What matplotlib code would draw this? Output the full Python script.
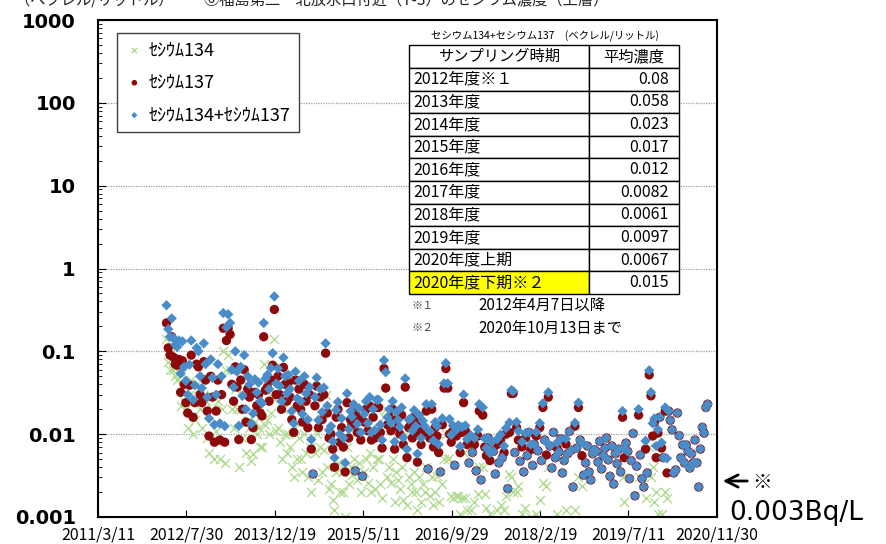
import numpy as np
import pandas as pd
import matplotlib
matplotlib.use("Agg")
import matplotlib.pyplot as plt
from matplotlib.patches import Rectangle
from matplotlib.ticker import LogLocator, NullFormatter

plt.rcParams['font.family'] = ['Noto Sans CJK JP', 'DejaVu Sans']

nd = None  # 不検出
days = [7, 17, 27]  # 月内の採取日（3回/月）

# セシウム137 (Bq/L)
r2012 = [0.22, 0.11, 0.09, 0.15, 0.085, 0.07, 0.068, 0.08, 0.032, 0.077, 0.04, 0.024, 0.018, 0.039, 0.09,
         0.016, 0.024, 0.07, 0.065, 0.03, 0.024, 0.075, 0.045, 0.019, 0.0095, 0.05, 0.028]
r2013 = [0.008, 0.019, 0.045, 0.0085, 0.03, 0.19, 0.008, 0.135, 0.19, 0.16, 0.04, 0.025, 0.065, 0.037, 0.0086,
         0.045, 0.02, 0.06, 0.014, 0.035, 0.028, 0.0086, 0.012, 0.032, 0.022, 0.03, 0.018, 0.0166, 0.15, 0.034,
         0.037, 0.025, 0.045, 0.068, 0.32, 0.03]
r2014 = [0.05, 0.03, 0.02, 0.064, 0.04, 0.025, 0.042, 0.028, 0.015, 0.0105, 0.045, 0.022, 0.035, 0.02, 0.014,
         0.04, 0.025, 0.012, 0.03, 0.0066, 0.0033, 0.022, 0.038, 0.012, 0.028, 0.015, 0.03, 0.095, 0.018, 0.009,
         0.01, 0.0066, 0.004, 0.016, 0.02, 0.008]
r2015 = [0.012, 0.007, 0.0035, 0.024, 0.009, 0.015, 0.013, 0.018, 0.0036, 0.0105, 0.016, 0.0085, 0.0031, 0.014,
         0.02, 0.011, 0.022, 0.0085, 0.016, 0.009, 0.021, 0.021, 0.0105, 0.0068, 0.062, 0.036, 0.013, 0.016,
         0.011, 0.02, 0.0066, 0.015, 0.012, 0.01, 0.017, 0.0075]
r2016 = [0.037, 0.0052, 0.012, 0.013, 0.009, 0.016, 0.0105, 0.0046, 0.014, 0.0075, 0.012, 0.0105, 0.019, 0.0038,
         0.009, 0.02, 0.007, 0.012, 0.0095, 0.006, 0.0035, 0.013, 0.036, 0.062, 0.036, 0.01, 0.008, 0.011, 0.0042,
         0.0095, 0.011, 0.006, 0.0105, 0.024, 0.011, 0.0075]
r2017 = [0.0045, 0.0085, 0.006, 0.0075, 0.0036, 0.0095, 0.019, 0.0028, 0.017, 0.007, 0.0055, 0.009, 0.0048, 0.008,
         0.0062, 0.0033, 0.0075, 0.0045, 0.0085, 0.0052, 0.006, 0.01, 0.0022, 0.0105, 0.031, 0.031, 0.006, 0.012,
         0.0085, 0.0047, 0.007, 0.0035, 0.009, 0.0055, 0.0105, 0.0065]
r2018 = [0.0042, 0.0075, 0.0095, 0.0063, 0.012, 0.0048, 0.021, 0.0085, 0.0056, 0.028, 0.0072, 0.0039, 0.0105,
         0.0052, 0.0068, 0.0061, 0.0088, 0.0034, 0.0048, 0.0076, 0.0058, 0.0108, 0.0064, 0.0023, 0.0125, 0.0068,
         0.021, 0.0085, 0.0055, 0.0032, 0.0045, 0.0072, 0.0035, 0.0028, 0.0058, 0.0065]
r2019 = [0.0062, 0.0046, 0.0082, 0.0038, 0.0055, 0.0068, 0.009, 0.0049, 0.0031, 0.0072, 0.0025, 0.0058, 0.0044,
         0.0066, 0.0035, 0.016, 0.0052, 0.0078, 0.0062, 0.0029, 0.0048, 0.0102, 0.0018, 0.0041, 0.017, 0.0056,
         0.0029, 0.0023, 0.0066, 0.0034, 0.052, 0.029, 0.0095, 0.014, 0.0052, 0.0103]
r2020 = [0.016, 0.0068, 0.0052, 0.019, 0.0034, 0.019, 0.0147, 0.0113, 0.0034, 0.0037, 0.018, 0.0096, 0.0052,
         0.0074, 0.0045, 0.0074, 0.0062, 0.0039, 0.0058, 0.0045, 0.0085, 0.0045, 0.0023, 0.0066, 0.0121, 0.0103,
         0.021, 0.023]

# セシウム134 (Bq/L)
g2012 = [0.14, 0.075, 0.06, 0.1, 0.06, 0.05, 0.045, 0.055, 0.022, 0.055, 0.025, 0.02, 0.012, 0.03, 0.045, 0.01,
         0.015, 0.04, 0.035, 0.02, 0.012, 0.05, 0.025, 0.009, 0.006, 0.03, 0.02]
g2013 = [0.005, 0.011, 0.025, 0.005, 0.02, 0.1, 0.0045, 0.06, 0.09, 0.06, 0.02, 0.012, 0.035, 0.02, 0.004, 0.02,
         0.009, 0.03, 0.006, 0.015, 0.012, 0.0048, 0.0058, 0.014, 0.01, 0.012, 0.007, 0.007, 0.07, 0.013, 0.015,
         0.01, 0.018, 0.027, 0.14, 0.011]
g2014 = [0.012, 0.008, 0.005, 0.02, 0.01, 0.006, 0.01, 0.007, 0.004, 0.003, 0.012, 0.005, 0.009, 0.005, 0.0035,
         0.01, 0.006, 0.003, 0.007, 0.002, nd, 0.006, 0.01, 0.0028, 0.007, 0.0035, 0.0065, 0.03, 0.004, 0.0022,
         0.0025, 0.0016, 0.0012, 0.0035, 0.0045, 0.002]
g2015 = [0.0035, 0.002, 0.001, 0.007, 0.0025, 0.004, 0.0032, 0.005, nd, 0.0028, 0.0045, 0.002, nd, 0.0035, 0.005,
         0.0026, 0.006, 0.002, 0.004, 0.0022, 0.005, 0.005, 0.0025, 0.0017, 0.016, 0.02, 0.003, 0.004, 0.0026,
         0.005, 0.0015, 0.0035, 0.0028, 0.0022, 0.004, 0.0016]
g2016 = [0.01, 0.0014, 0.003, 0.0025, 0.002, 0.0035, 0.002, 0.0012, 0.003, 0.0015, 0.0025, 0.002, 0.004, nd,
         0.0018, 0.003, 0.0014, 0.002, 0.0031, 0.0015, nd, 0.0025, 0.005, 0.01, 0.005, 0.0052, 0.0018, 0.0017, nd,
         0.0018, 0.0018, 0.0011, 0.0017, 0.006, 0.0017, 0.0012]
g2017 = [nd, 0.0012, nd, 0.0015, nd, 0.0019, 0.004, nd, 0.004, 0.0019, 0.0013, nd, 0.0011, nd, nd, nd, 0.0012,
         nd, 0.0014, nd, 0.0012, 0.0018, nd, 0.0033, 0.003, 0.002, nd, 0.002, 0.0024, nd, 0.0011, nd, 0.0013, nd,
         nd, 0.001]
g2018 = [nd, nd, 0.0011, nd, 0.0016, nd, 0.0026, nd, 0.0024, 0.004, nd, nd, nd, nd, 0.0011, nd, nd, nd, nd,
         0.0012, nd, nd, nd, nd, 0.0012, nd, 0.003, nd, 0.0024, nd, nd, nd, nd, nd, nd, nd]
g2019 = [nd, nd, nd, nd, nd, nd, nd, nd, nd, nd, nd, nd, nd, nd, nd, 0.003, 0.0015, nd, nd, nd, nd, nd, nd, nd,
         0.003, nd, nd, nd, 0.0017, nd, 0.007, 0.003, 0.004, 0.0015, 0.002, 0.0011]
g2020 = [nd, 0.0011, nd, 0.002, 0.0017, nd, nd, nd, nd, nd, nd, nd, nd, nd, nd, nd, nd, nd, nd, nd, nd, nd, nd,
         nd, nd, nd, nd, nd]

series = [(2012, 4, r2012, g2012), (2013, 1, r2013, g2013), (2014, 1, r2014, g2014), (2015, 1, r2015, g2015),
          (2016, 1, r2016, g2016), (2017, 1, r2017, g2017), (2018, 1, r2018, g2018), (2019, 1, r2019, g2019),
          (2020, 1, r2020, g2020)]

xtick_labels = ["2011/3/11", "2012/7/30", "2013/12/19", "2015/5/11", "2016/9/29", "2018/2/19", "2019/7/11",
                "2020/11/30"]
ytick_vals = [0.001, 0.01, 0.1, 1, 10, 100, 1000]
ytick_labels = ["0.001", "0.01", "0.1", "1", "10", "100", "1000"]

periods = ["2012年度※１", "2013年度", "2014年度", "2015年度", "2016年度", "2017年度", "2018年度", "2019年度",
           "2020年度上期", "2020年度下期※２"]
means = ["0.08", "0.058", "0.023", "0.017", "0.012", "0.0082", "0.0061", "0.0097", "0.0067", "0.015"]

dates, cs137, cs134 = [], [], []
for year, m0, r, g in series:
    for i in range(len(r)):
        m = m0 - 1 + i // 3
        dates.append(pd.Timestamp(year + m // 12, m % 12 + 1, days[i % 3]))
    cs137 += r
    cs134 += g
dates = pd.to_datetime(dates)
cs137 = np.array(cs137, dtype=float)
cs134 = np.array(cs134, dtype=float)
total = cs137 + np.nan_to_num(cs134)

fig = plt.figure(figsize=(8.87, 5.44), dpi=100)
ax = fig.add_axes([98 / 887, 27 / 544, 619 / 887, 497 / 544])

ax.scatter(dates, cs134, marker='x', s=42, c='#b2db94', linewidths=1.0, zorder=2, label='ｾｼｳﾑ134')
ax.scatter(dates, cs137, marker='o', s=45, c='#8c0a0a', edgecolors='none', zorder=3, label='ｾｼｳﾑ137')
ax.scatter(dates, total, marker='D', s=28, c='#4a8cc8', edgecolors='none', zorder=4, label='ｾｼｳﾑ134+ｾｼｳﾑ137')

ax.set_yscale('log')
ax.set_ylim(0.001, 1000)
ax.set_xlim(pd.Timestamp('2011-03-11'), pd.Timestamp('2020-11-30'))
ax.set_yticks(ytick_vals)
ax.set_yticklabels(ytick_labels, fontsize=14, fontweight='bold', family='DejaVu Sans')
ax.yaxis.set_minor_locator(LogLocator(base=10, subs=range(2, 10), numticks=20))
ax.yaxis.set_minor_formatter(NullFormatter())
ax.set_xticks(pd.to_datetime(xtick_labels, format='%Y/%m/%d'))
ax.set_xticklabels(xtick_labels, fontsize=11.5)
ax.tick_params(axis='y', which='major', direction='in', length=6, pad=16)
ax.tick_params(axis='y', which='minor', direction='in', length=3)
ax.tick_params(axis='x', direction='in', length=5, pad=7)
ax.yaxis.grid(True, which='major', color='#a0a0a0', linestyle=(0, (1, 1)), linewidth=0.9)
ax.set_axisbelow(True)
for sp in ax.spines.values():
    sp.set_color('black')
    sp.set_linewidth(1.5)

leg = ax.legend(loc='upper left', bbox_to_anchor=(0.031, 0.974), borderaxespad=0, frameon=True,
                fancybox=False, edgecolor='#404040', fontsize=13, labelspacing=0.8, borderpad=0.45,
                handletextpad=0.3, handlelength=1.0, markerscale=0.6, framealpha=1)
leg.get_frame().set_linewidth(1.0)

# 表・注記（ピクセル座標）
ov = fig.add_axes([0, 0, 1, 1], zorder=5)
ov.set_xlim(0, 887)
ov.set_ylim(544, 0)
ov.axis('off')

ov.text(15, 0, "（ベクレル/リットル）　　⑥福島第二　北放水口付近（T-3）のセシウム濃度（上層）",
        va='center', fontsize=11, color='#222222')

x0, x1, x2 = 409, 589, 679
ov.text(545, 36, "セシウム134+セシウム137　(ベクレル/リットル)", ha='center', va='center', fontsize=7.5)
ov.add_patch(Rectangle((x0, 45), x1 - x0, 23, facecolor='white', edgecolor='black', lw=1))
ov.add_patch(Rectangle((x1, 45), x2 - x1, 23, facecolor='white', edgecolor='black', lw=1))
ov.text((x0 + x1) / 2, 56.5, "サンプリング時期", ha='center', va='center', fontsize=11)
ov.text((x1 + x2) / 2, 56.5, "平均濃度", ha='center', va='center', fontsize=11)
rh = 22.6
for i, (p, v) in enumerate(zip(periods, means)):
    y = 68 + i * rh
    fc = '#ffff00' if i == len(periods) - 1 else 'white'
    ov.add_patch(Rectangle((x0, y), x1 - x0, rh, facecolor=fc, edgecolor='black', lw=1))
    ov.add_patch(Rectangle((x1, y), x2 - x1, rh, facecolor='white', edgecolor='black', lw=1))
    ov.text(x0 + 4, y + rh / 2, p, ha='left', va='center', fontsize=11.5)
    ov.text(x2 - 10, y + rh / 2, v, ha='right', va='center', fontsize=11.5)

ov.text(412, 306, "※１", va='center', fontsize=8, color='#444444')
ov.text(478, 306, "2012年4月7日以降", va='center', fontsize=11)
ov.text(412, 328, "※２", va='center', fontsize=8, color='#444444')
ov.text(478, 328, "2020年10月13日まで", va='center', fontsize=11)

ov.annotate("", xy=(720, 481), xytext=(750, 481),
            arrowprops=dict(arrowstyle='->', lw=2, color='black', mutation_scale=22))
ov.text(752, 482, "※", va='center', fontsize=14)
ov.text(729, 513, "0.003Bq/L", va='center', fontsize=19, family='DejaVu Sans')

fig.savefig("out.png", dpi=100)
